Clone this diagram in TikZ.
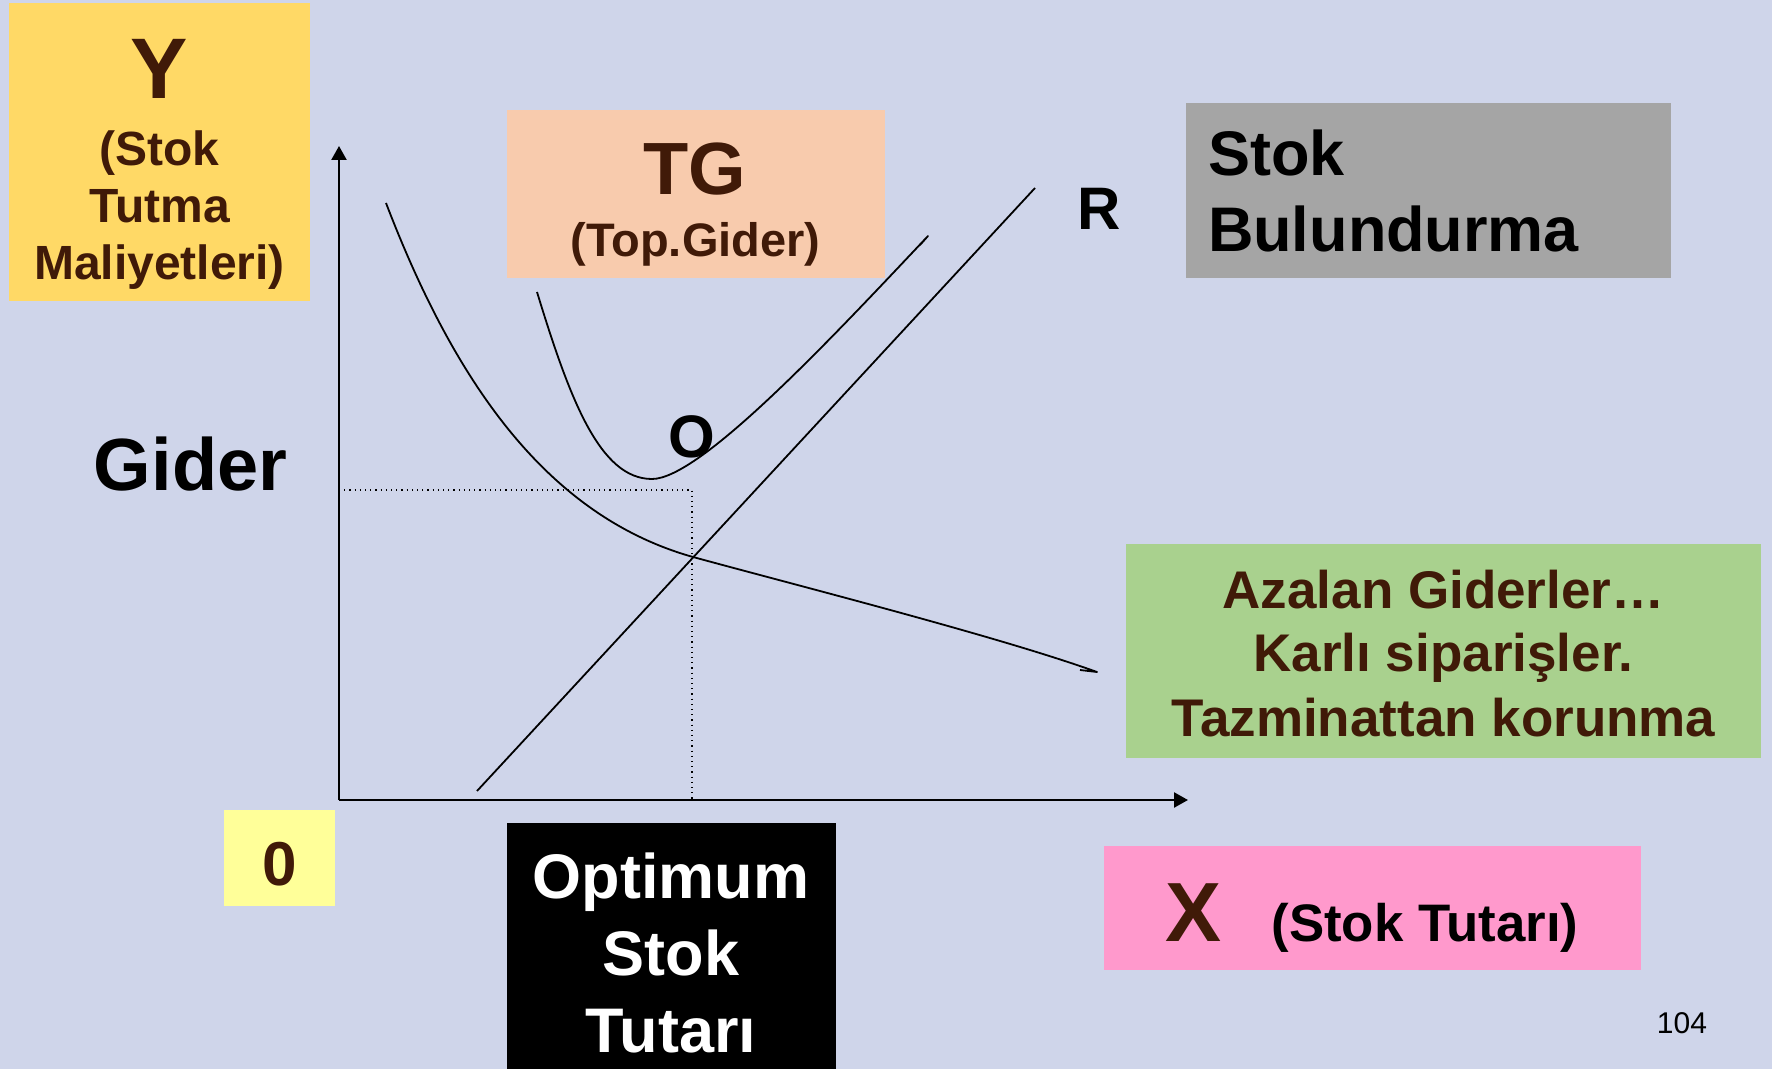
\documentclass[tikz,border=0pt]{standalone}
\usepackage{fontspec}
\setmainfont{Liberation Sans}
\usetikzlibrary{arrows.meta}
\definecolor{bgc}{RGB}{207,213,234}
\definecolor{ylw}{RGB}{255,217,102}
\definecolor{peach}{RGB}{248,203,173}
\definecolor{grayc}{RGB}{165,165,165}
\definecolor{greenc}{RGB}{169,209,142}
\definecolor{pinkc}{RGB}{255,153,204}
\definecolor{lylw}{RGB}{255,255,153}
\definecolor{brn}{RGB}{64,26,8}
\newcommand\myfs[1]{\fontsize{#1}{#1}\selectfont}
\begin{document}
\begin{tikzpicture}[x=0.5pt,y=-0.5pt,
  box/.style={inner sep=0pt, outer sep=0pt, anchor=north west},
  lbl/.style={inner sep=0pt, outer sep=0pt, anchor=base},
  curve/.style={line width=0.9pt, black, line join=round},
  axis/.style={line width=1.2pt, -{Triangle[length=7pt,width=7.5pt]}},
  guide/.style={dotted, line width=0.6pt}]
\useasboundingbox (0,0) rectangle (1772,1069);
\fill[bgc] (0,0) rectangle (1772,1069);
% boxes
\node[box, fill=ylw, minimum width=150.5pt, minimum height=149pt] (ybox) at (9,3) {};
\node[box, fill=peach, minimum width=189pt, minimum height=84pt] (tgbox) at (507,110) {};
\node[box, fill=grayc, minimum width=242.5pt, minimum height=87.5pt] (sbbox) at (1186,103) {};
\node[box, fill=greenc, minimum width=317.5pt, minimum height=107pt] (azbox) at (1126,544) {};
\node[box, fill=pinkc, minimum width=268.5pt, minimum height=62pt] (xbox) at (1104,846) {};
\node[box, fill=lylw, minimum width=55.5pt, minimum height=48pt] (zbox) at (224,810) {};
\node[box, fill=black, minimum width=164.5pt, minimum height=123pt] (obox) at (507,823) {};
% Y box text
\node[lbl, text=brn, font=\bfseries\myfs{43}] (ty) at (159.5,99) {Y};
\node[lbl, text=brn, font=\bfseries\myfs{24}] (ty1) at (159.5,166) {(Stok};
\node[lbl, text=brn, font=\bfseries\myfs{24}] (ty2) at (159.5,223) {Tutma};
\node[lbl, text=brn, font=\bfseries\myfs{24}] (ty3) at (159.5,280) {Maliyetleri)};
% Gider
\node[lbl, font=\bfseries\myfs{37}] (gider) at (190.5,490) {Gider};
% TG box text
\node[lbl, text=brn, font=\bfseries\myfs{37}] (ttg) at (695,195) {TG};
\node[lbl, text=brn, font=\bfseries\myfs{23.5}] (ttg1) at (695.5,257) {(Top.Gider)};
% R, O
\node[lbl, font=\bfseries\myfs{30}] (rlbl) at (1099.5,230) {R};
\node[lbl, font=\bfseries\myfs{30}] (olbl) at (691.5,458) {O};
% Stok Bulundurma
\node[lbl, anchor=base west, font=\bfseries\myfs{31.5}] (sb1) at (1208,176) {Stok};
\node[lbl, anchor=base west, font=\bfseries\myfs{31.5}] (sb2) at (1208,252) {Bulundurma};
% green box
\node[lbl, text=brn, font=\bfseries\myfs{26.5}] (az1) at (1443.5,608) {Azalan Giderler…};
\node[lbl, text=brn, font=\bfseries\myfs{26.5}] (az2) at (1443.5,671) {Karlı siparişler.};
\node[lbl, text=brn, font=\bfseries\myfs{26.5}] (az3) at (1443.5,736) {Tazminattan korunma};
% X box
\node[lbl, text=brn, font=\bfseries\myfs{42}] (tx) at (1193.5,941) {X};
\node[lbl, font=\bfseries\myfs{26.4}] (tx1) at (1425,941) {(Stok Tutarı)};
% zero
\node[lbl, text=brn, font=\bfseries\myfs{31}] (tz) at (279.5,885) {0};
% optimum
\node[lbl, text=white, font=\bfseries\myfs{31.5}] (op1) at (671,898) {Optimum};
\node[lbl, text=white, font=\bfseries\myfs{31.5}] (op2) at (671,975) {Stok};
\node[lbl, text=white, font=\bfseries\myfs{31.5}] (op3) at (671,1052) {Tutarı};
% page number
\node[lbl, font=\myfs{15}] (pg) at (1682,1033) {104};
% axes
\coordinate (orig) at (339,800);
\coordinate (ytop) at (339,146);
\coordinate (xend) at (1188,800);
\draw[axis] (orig) -- (ytop);
\draw[axis] (orig) -- (xend);
% guides
\coordinate (gy) at (339,490);
\coordinate (gopt) at (692,490);
\coordinate (gx) at (692,800);
\draw[guide] (gy) -- (gopt) -- (gx);
% R line
\coordinate (r0) at (477,791);
\coordinate (r1) at (1035,188);
\draw[curve] (r0) -- (r1);
% decreasing curve
\coordinate (d0) at (386,203);
\coordinate (d1) at (693,557);
\coordinate (d2) at (1097,672);
\draw[curve] (d0) .. controls (450,370) and (540,514) .. (d1)
  .. controls (803,587) and (1000,637) .. (d2) -- (1080,670);
% TG curve
\coordinate (t0) at (537,292);
\coordinate (tmin) at (652,479);
\coordinate (t1) at (928,236);
\draw[curve] (t0) .. controls (570,400) and (600,479) .. (tmin)
  .. controls (700,479) and (830,340) .. (t1) -- (920,245);
\end{tikzpicture}
\end{document}
